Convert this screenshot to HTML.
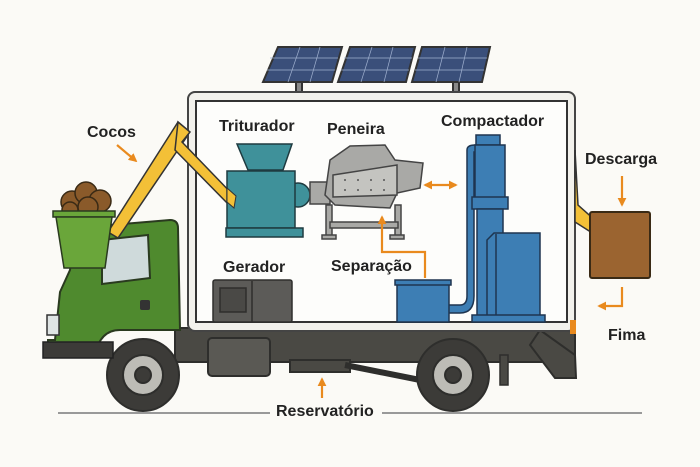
<!DOCTYPE html>
<html><head><meta charset="utf-8"><style>
html,body{margin:0;padding:0;background:#fbfaf6;}
svg{display:block}
text{font-family:"Liberation Sans",sans-serif;font-weight:bold;fill:#222;}
</style></head><body>
<svg width="700" height="467" viewBox="0 0 700 467" xmlns="http://www.w3.org/2000/svg">
<rect width="700" height="467" fill="#fbfaf6"/>
<defs>
<marker id="ah" viewBox="0 0 10 10" refX="8" refY="5" markerWidth="4" markerHeight="4" orient="auto-start-reverse"><path d="M0,0L10,5L0,10z" fill="#e98a1e"/></marker>
</defs>
<line x1="58" y1="413" x2="270" y2="413" stroke="#999" stroke-width="2"/>
<line x1="382" y1="413" x2="642" y2="413" stroke="#999" stroke-width="2"/>
<g stroke="#333" stroke-width="2">
<rect x="296" y="80" width="6" height="12" fill="#888"/>
<rect x="453" y="80" width="6" height="12" fill="#888"/>
<polygon points="278,47 342,47 332,82 263,82" fill="#3a4f7a"/>
<polygon points="350,47 415,47 406,82 338,82" fill="#3a4f7a"/>
<polygon points="422,47 490,47 482,82 412,82" fill="#3a4f7a"/>
</g>
<g stroke="#9fb0cf" stroke-width="0.7">
<line x1="270" y1="58" x2="338" y2="58"/><line x1="267" y1="70" x2="335" y2="70"/>
<line x1="344" y1="58" x2="412" y2="58"/><line x1="341" y1="70" x2="409" y2="70"/>
<line x1="418" y1="58" x2="487" y2="58"/><line x1="415" y1="70" x2="484" y2="70"/>
<line x1="300" y1="47" x2="288" y2="82"/><line x1="320" y1="47" x2="310" y2="82"/>
<line x1="372" y1="47" x2="361" y2="82"/><line x1="393" y1="47" x2="384" y2="82"/>
<line x1="445" y1="47" x2="436" y2="82"/><line x1="467" y1="47" x2="459" y2="82"/>
</g>
<rect x="175" y="328" width="400" height="34" fill="#4a4944" stroke="#2e2e2c" stroke-width="2"/>
<path d="M540 330 L575 355 L576 378 L555 378 L530 345z" fill="#4a4944" stroke="#2e2e2c" stroke-width="2"/>
<rect x="208" y="338" width="62" height="38" rx="4" fill="#5a5954" stroke="#2e2e2c" stroke-width="2"/>
<rect x="290" y="360" width="60" height="12" fill="#4a4944" stroke="#2e2e2c" stroke-width="2"/>
<path d="M345 365 L420 380" stroke="#2e2e2c" stroke-width="6"/>
<rect x="500" y="355" width="8" height="30" fill="#4a4944" stroke="#2e2e2c" stroke-width="1.5"/>
<g stroke="#2e2e2c" stroke-width="2">
<circle cx="143" cy="375" r="36" fill="#3c3b38"/><circle cx="143" cy="375" r="20" fill="#bdbcb6"/><circle cx="143" cy="375" r="8" fill="#3c3b38"/>
<circle cx="453" cy="375" r="36" fill="#3c3b38"/><circle cx="453" cy="375" r="20" fill="#bdbcb6"/><circle cx="453" cy="375" r="8" fill="#3c3b38"/>
</g>
<path d="M60 292 L70 270 L75 228 L170 220 Q178 220 178 228 L180 330 L120 330 Q100 330 95 355 L48 355 L48 340 L55 340 Z" fill="#4f8a2e" stroke="#2a3a1f" stroke-width="2"/>
<path d="M102 240 L148 235 L150 278 L102 284 Z" fill="#cfdadb" stroke="#2a3a1f" stroke-width="2"/>
<rect x="47" y="315" width="12" height="20" fill="#dfe4e4" stroke="#333" stroke-width="1.5"/>
<rect x="43" y="342" width="70" height="16" fill="#3c3b38" stroke="#222" stroke-width="1.5"/>
<rect x="140" y="300" width="10" height="10" rx="2" fill="#333"/>
<g stroke="#3a2a15" stroke-width="1.5" fill="#8a5a2a">
<circle cx="72" cy="202" r="11"/><circle cx="86" cy="193" r="11"/><circle cx="100" cy="201" r="11"/><circle cx="88" cy="207" r="10"/><circle cx="70" cy="210" r="8"/>
</g>
<path d="M108 232 L178 122 L190 132 L118 238 Z" fill="#f3c037" stroke="#333" stroke-width="1.5"/>
<polygon points="53,211 115,211 115,217 53,217" fill="#6aa63a" stroke="#2a3a1f" stroke-width="1.5"/>
<polygon points="56,217 112,217 105,268 64,268" fill="#6aa63a" stroke="#2a3a1f" stroke-width="1.5"/>
<rect x="188" y="92" width="387" height="239" rx="7" fill="#f2f1ec" stroke="#444" stroke-width="2"/>
<rect x="196" y="101" width="371" height="221" fill="#fdfdfb" stroke="#333" stroke-width="2"/>
<rect x="570" y="320" width="6" height="14" fill="#e98a1e"/>
<path d="M178 122 L190 132 L182 142 L236 198 L234 210 L175 150 Z" fill="#f3c037" stroke="#333" stroke-width="1.5"/>
<path d="M575 150 L578 205 L597 222 L597 236 L575 222 Z" fill="#f3c037" stroke="#333" stroke-width="1.5"/>
<rect x="590" y="212" width="60" height="66" rx="2" fill="#9b6430" stroke="#3a2a15" stroke-width="2"/>
<g stroke="#1f3b40" stroke-width="1.5" fill="#3f919a">
<polygon points="237,144 292,144 283,170 248,170"/>
<circle cx="298" cy="195" r="12"/>
<rect x="227" y="171" width="68" height="57"/>
<rect x="226" y="228" width="77" height="9"/>
</g>
<path d="M227 188 L236 196 L234 208 L227 202 Z" fill="#f3c037" stroke="#333" stroke-width="1"/>
<g stroke="#444" stroke-width="1.5" fill="#a9a9a6">
<rect x="310" y="182" width="20" height="22"/>
<polygon points="330,160 350,146 385,145 395,160 423,163 420,188 397,193 390,208 335,205 325,195"/>
<polygon points="333,175 397,165 397,195 333,197" fill="#c4c4c0"/>
<rect x="326" y="205" width="6" height="32"/><rect x="395" y="205" width="6" height="32"/>
<rect x="330" y="222" width="68" height="6"/>
<rect x="322" y="235" width="14" height="4"/><rect x="390" y="235" width="14" height="4"/>
</g>
<g fill="#555"><circle cx="345" cy="180" r="1"/><circle cx="358" cy="180" r="1"/><circle cx="371" cy="180" r="1"/><circle cx="384" cy="180" r="1"/><circle cx="345" cy="190" r="1"/><circle cx="358" cy="190" r="1"/><circle cx="371" cy="190" r="1"/><circle cx="384" cy="190" r="1"/></g>
<rect x="213" y="280" width="79" height="42" rx="2" fill="#5c5b58" stroke="#2e2e2c" stroke-width="1.5"/>
<rect x="220" y="288" width="26" height="24" fill="#4a4946" stroke="#2e2e2c" stroke-width="1.5"/>
<line x1="252" y1="281" x2="252" y2="322" stroke="#2e2e2c" stroke-width="1.5"/>
<g stroke="#1e3550" stroke-width="1.5" fill="#3d7eb4">
<path d="M448 305 L460 305 Q467 305 467 296 L467 150 Q467 145 475 145 L478 145 L478 152 L474 152 L474 296 Q474 313 460 313 L448 313 Z"/>
<rect x="476" y="135" width="24" height="10"/>
<rect x="475" y="145" width="30" height="60"/>
<rect x="472" y="197" width="36" height="12"/>
<rect x="477" y="209" width="26" height="108"/>
<polygon points="487,240 494,233 540,233 540,318 487,318"/>
<line x1="496" y1="234" x2="496" y2="318"/>
<rect x="472" y="315" width="73" height="7"/>
<rect x="397" y="282" width="52" height="40"/>
<rect x="395" y="280" width="56" height="5"/>
</g>
<g stroke="#e98a1e" stroke-width="2.2" fill="none">
<line x1="117" y1="145" x2="136" y2="161" marker-end="url(#ah)"/>
<line x1="425" y1="185" x2="456" y2="185" marker-start="url(#ah)" marker-end="url(#ah)"/>
<polyline points="425,278 425,252 382,252 382,217" marker-end="url(#ah)"/>
<line x1="622" y1="176" x2="622" y2="205" marker-end="url(#ah)"/>
<polyline points="622,287 622,306 599,306" marker-end="url(#ah)"/>
<line x1="322" y1="398" x2="322" y2="379" marker-end="url(#ah)"/>
</g>
<g font-size="16">
<text x="87" y="137">Cocos</text>
<text x="219" y="131">Triturador</text>
<text x="327" y="134">Peneira</text>
<text x="441" y="126">Compactador</text>
<text x="585" y="164">Descarga</text>
<text x="223" y="272">Gerador</text>
<text x="331" y="271">Separação</text>
<text x="608" y="340">Fima</text>
<text x="276" y="416">Reservatório</text>
</g>
</svg>
</body></html>
